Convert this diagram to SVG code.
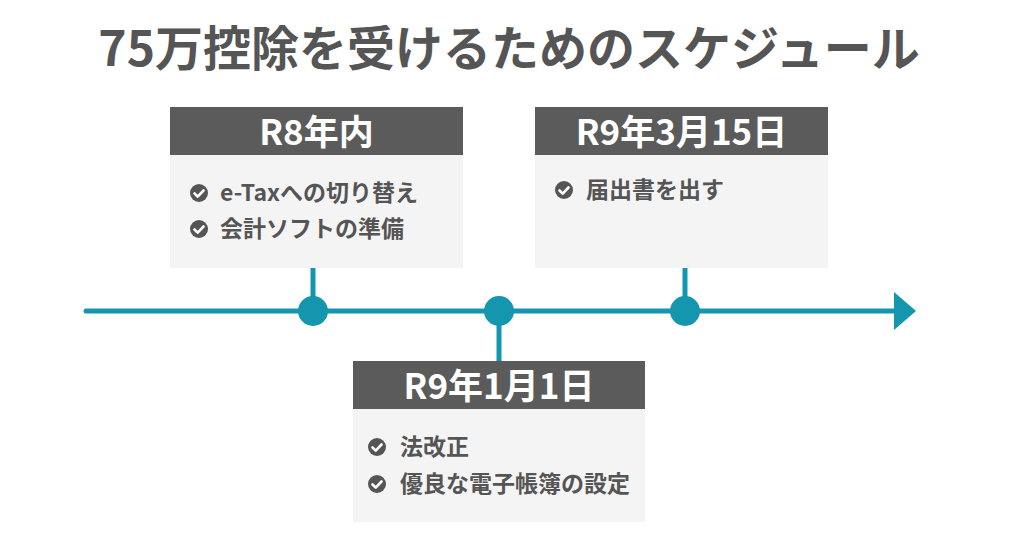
<svg xmlns="http://www.w3.org/2000/svg" width="1024" height="538" viewBox="0 0 1024 538">
<defs>
<style>
.hd{fill:#5b5b5b}
.bd{fill:#f4f4f4}
.ht{font-family:"Noto Sans CJK JP","Noto Sans",sans-serif;font-weight:700;font-size:35px;fill:#fff;text-anchor:middle}
.it{font-family:"Noto Sans CJK JP","Noto Sans",sans-serif;font-weight:700;font-size:23px;fill:#555}
.tl{stroke:#1396ae;stroke-width:5;fill:none;stroke-linecap:round}
.dot{fill:#1396ae}
</style>
<g id="chk">
<circle cx="0" cy="0" r="9" fill="#555"/>
<path d="M-4.5,0.5 L-1.3,3.7 L4.5,-2.5" stroke="#fff" stroke-width="2.6" fill="none" stroke-linecap="round" stroke-linejoin="round"/>
</g>
</defs>
<rect width="1024" height="538" fill="#fff"/>
<text id="title" x="509" y="66" font-family="Noto Sans CJK JP,Noto Sans,sans-serif" font-weight="700" font-size="48" fill="#555" text-anchor="middle">75万控除を受けるためのスケジュール</text>
<g id="connectors">
<line class="tl" x1="86" y1="311" x2="900" y2="311"/>
<polygon class="dot" points="894,292 916,311 894,330"/>
<line class="tl" x1="313" y1="268" x2="313" y2="311" stroke-linecap="butt"/>
<line class="tl" x1="685" y1="268" x2="685" y2="311" stroke-linecap="butt"/>
<line class="tl" x1="499" y1="311" x2="499" y2="361" stroke-linecap="butt"/>
<circle class="dot" cx="313" cy="311" r="15"/>
<circle class="dot" cx="499" cy="311" r="15"/>
<circle class="dot" cx="685" cy="311" r="15"/>
</g>
<g id="node-r8">
<rect class="bd" x="170" y="155" width="293" height="113"/>
<rect class="hd" x="170" y="107" width="293" height="48"/>
<text class="ht" x="316.5" y="145">R8年内</text>
<use href="#chk" x="199" y="193"/>
<text class="it" x="220" y="201">e-Taxへの切り替え</text>
<use href="#chk" x="199" y="229"/>
<text class="it" x="220" y="237">会計ソフトの準備</text>
</g>
<g id="node-r9-315">
<rect class="bd" x="535" y="155" width="293" height="113"/>
<rect class="hd" x="535" y="107" width="293" height="48"/>
<text class="ht" x="681.5" y="145">R9年3月15日</text>
<use href="#chk" x="564" y="190"/>
<text class="it" x="586" y="198">届出書を出す</text>
</g>
<g id="node-r9-11">
<rect class="bd" x="353" y="409" width="292" height="113"/>
<rect class="hd" x="353" y="361" width="292" height="48"/>
<text class="ht" x="499" y="399">R9年1月1日</text>
<use href="#chk" x="377" y="447"/>
<text class="it" x="400" y="455">法改正</text>
<use href="#chk" x="377" y="484"/>
<text class="it" x="400" y="492">優良な電子帳簿の設定</text>
</g>
</svg>
